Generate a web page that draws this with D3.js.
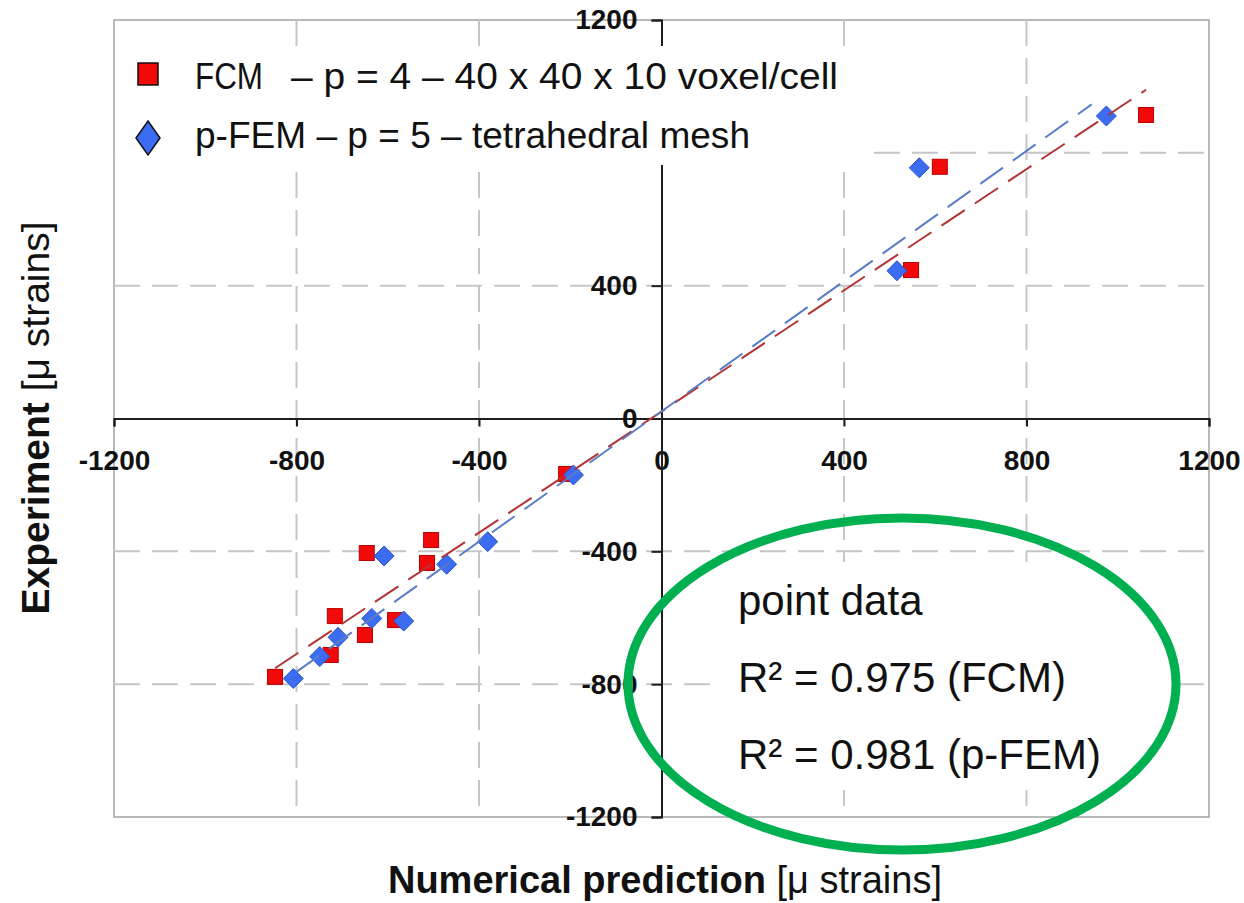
<!DOCTYPE html>
<html>
<head>
<meta charset="utf-8">
<script src="https://cdn.jsdelivr.net/npm/d3@7"></script>
<style>
  body { margin: 0; background: #fff; }
  svg { display: block; }
  text { font-family: "Liberation Sans", Arial, sans-serif; fill: #111; }
</style>
</head>
<body>
<script>
const width = 1244, height = 903;
const plot = {left: 114, right: 1209, top: 20, bottom: 817};

// axis ticks (the y label at 800 sits under the legend in the original)
const xTickValues = [-1200, -800, -400, 0, 400, 800, 1200];
const yTickValues = [-1200, -800, -400, 0, 400, 1200];
const gridValues = [-800, -400, 400, 800];

// FCM (red squares)
const fcmX = [-847, -716, -725, -646, -650, -584, -505, -514, -209, 547, 610, 1062];
const fcmY = [-778, -595, -712, -405, -652, -607, -366, -435, -167, 447, 758, 914];
// p-FEM (blue diamonds)
const pfemX = [-807, -749, -709, -635, -608, -565, -471, -381, -193, 516, 565, 975];
const pfemY = [-783, -717, -659, -602, -414, -610, -439, -371, -170, 445, 755, 911];

// trend lines, end points
const fcmTrendX = [-847, 1062], fcmTrendY = [-752, 990];
const pfemTrendX = [-800, 943], pfemTrendY = [-763, 946];

const legendLabels = ["FCM", "– p = 4 – 40 x 40 x 10 voxel/cell", "p-FEM – p = 5 – tetrahedral mesh"];
const noteLines = ["point data", "R² = 0.975 (FCM)", "R² = 0.981 (p-FEM)"];

const svg = d3.select("body").append("svg")
    .attr("width", width)
    .attr("height", height);

const x = d3.scaleLinear().domain([-1200, 1200]).range([plot.left, plot.right]);
const y = d3.scaleLinear().domain([-1200, 1200]).range([plot.bottom, plot.top]);

// frame
svg.append("rect")
    .attr("x", plot.left).attr("y", plot.top)
    .attr("width", plot.right - plot.left).attr("height", plot.bottom - plot.top)
    .attr("fill", "none")
    .attr("stroke", "#a3a3a3")
    .attr("stroke-width", 1.5);

// dashed grid
const grid = svg.append("g").attr("stroke", "#c6c6c6").attr("stroke-width", 2).attr("stroke-dasharray", "26,12");
grid.selectAll(".gx").data(gridValues).join("line")
    .attr("x1", d => x(d)).attr("x2", d => x(d))
    .attr("y1", plot.top).attr("y2", plot.bottom);
grid.selectAll(".gy").data(gridValues).join("line")
    .attr("y1", d => y(d)).attr("y2", d => y(d))
    .attr("x1", plot.left).attr("x2", plot.right);

// axes crossing at 0
const xAxis = svg.append("g")
    .attr("transform", "translate(0," + y(0) + ")")
    .call(d3.axisBottom(x).tickValues(xTickValues).tickSize(8).tickPadding(24).tickFormat(d => String(d)));
const yAxis = svg.append("g")
    .attr("transform", "translate(" + x(0) + ",0)")
    .call(d3.axisLeft(y).tickValues(yTickValues).tickSize(10).tickPadding(14).tickFormat(d => String(d)));

[xAxis, yAxis].forEach(a => {
    a.selectAll("path, line").attr("stroke", "#1e1e1e").attr("stroke-width", 2);
    a.selectAll("text")
        .style("font-family", "'Liberation Sans', Arial, sans-serif")
        .style("font-size", "28px")
        .style("font-weight", "bold")
        .attr("fill", "#111");
});

// markers
const fcm = fcmX.map((v, i) => [v, fcmY[i]]);
const pfem = pfemX.map((v, i) => [v, pfemY[i]]);

svg.append("g").selectAll("rect").data(fcm).join("rect")
    .attr("x", d => x(d[0]) - 7.5).attr("y", d => y(d[1]) - 7.5)
    .attr("width", 15).attr("height", 15)
    .attr("fill", "#f20a0a")
    .attr("stroke", "#b80000")
    .attr("stroke-width", 1);

svg.append("g").selectAll("path").data(pfem).join("path")
    .attr("d", d => {
        const cx = x(d[0]), cy = y(d[1]);
        return `M${cx},${cy - 10}L${cx + 10},${cy}L${cx},${cy + 10}L${cx - 10},${cy}Z`;
    })
    .attr("fill", "#3b6cf2")
    .attr("stroke", "#2a55c8")
    .attr("stroke-width", 1);

// trend lines
const line = d3.line().x(d => x(d[0])).y(d => y(d[1]));
svg.append("path")
    .datum(fcmTrendX.map((v, i) => [v, fcmTrendY[i]]))
    .attr("d", line)
    .attr("fill", "none")
    .attr("stroke", "#b23434")
    .attr("stroke-width", 2)
    .attr("stroke-dasharray", "28,12");
svg.append("path")
    .datum(pfemTrendX.map((v, i) => [v, pfemTrendY[i]]))
    .attr("d", line)
    .attr("fill", "none")
    .attr("stroke", "#5a7ec6")
    .attr("stroke-width", 2)
    .attr("stroke-dasharray", "28,12");

// legend box (covers the top of the plot)
const legend = svg.append("g");
legend.append("rect")
    .attr("x", plot.left + 1).attr("y", 46)
    .attr("width", 752).attr("height", 119)
    .attr("fill", "#fff");
legend.append("rect")
    .attr("x", 138).attr("y", 63)
    .attr("width", 20).attr("height", 22)
    .attr("fill", "#f20a0a")
    .attr("stroke", "#111")
    .attr("stroke-width", 1.5);
legend.append("path")
    .attr("d", "M148,121L160,138L148,155L136,138Z")
    .attr("fill", "#3b6cf2")
    .attr("stroke", "#111")
    .attr("stroke-width", 1.5);
legend.append("text")
    .attr("x", 195).attr("y", 89)
    .attr("textLength", 68)
    .attr("lengthAdjust", "spacingAndGlyphs")
    .style("font-size", "37px")
    .text(legendLabels[0]);
legend.append("text")
    .attr("x", 291).attr("y", 89)
    .attr("textLength", 547)
    .attr("lengthAdjust", "spacingAndGlyphs")
    .style("font-size", "37px")
    .text(legendLabels[1]);
legend.append("text")
    .attr("x", 195).attr("y", 148)
    .attr("textLength", 555)
    .attr("lengthAdjust", "spacingAndGlyphs")
    .style("font-size", "37px")
    .text(legendLabels[2]);

// axis titles
const xt = svg.append("text")
    .attr("x", 665).attr("y", 893)
    .attr("text-anchor", "middle")
    .style("font-size", "38px");
xt.append("tspan").style("font-weight", "bold").text("Numerical prediction ");
xt.append("tspan").text("[μ strains]");

const yt = svg.append("text")
    .attr("transform", "translate(49,418) rotate(-90)")
    .attr("text-anchor", "middle")
    .style("font-size", "39px");
yt.append("tspan").style("font-weight", "bold").text("Experiment ");
yt.append("tspan").text("[μ strains]");

// annotation with green oval
const note = svg.append("g");
note.append("rect")
    .attr("x", 720).attr("y", 562)
    .attr("width", 458).attr("height", 228)
    .attr("fill", "#fff");
note.append("ellipse")
    .attr("cx", 902).attr("cy", 684)
    .attr("rx", 274).attr("ry", 166)
    .attr("fill", "none")
    .attr("stroke", "#00b050")
    .attr("stroke-width", 9);
note.selectAll("text").data(noteLines).join("text")
    .attr("x", 738)
    .attr("y", (d, i) => 615 + i * 77)
    .style("font-size", "42px")
    .attr("fill", "#1a1a1a")
    .text(d => d);
</script>
</body>
</html>
